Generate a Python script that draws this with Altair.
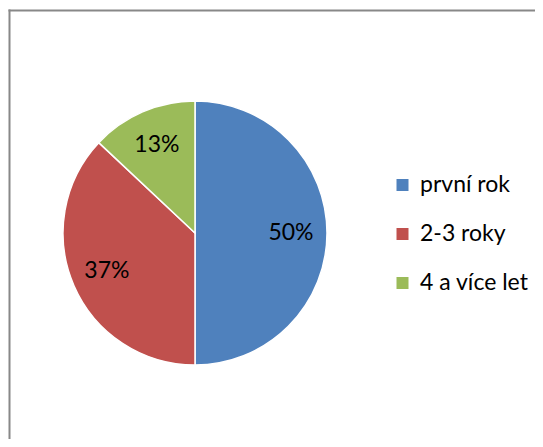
import altair as alt
import pandas as pd

categories = ["první rok", "2-3 roky", "4 a více let"]
values = [50, 37, 13]
labels = ["50%", "37%", "13%"]
colors = ["#4F81BD", "#C0504D", "#9BBB59"]

df = pd.DataFrame({"cat": categories, "val": values, "label": labels, "order": [0, 1, 2]})

W, H = 527, 431
CX, CY = 187, 225
FONT = "Lato"

base = alt.Chart(df).encode(
    theta=alt.Theta("val:Q", stack=True),
    order=alt.Order("order:Q"),
)

pie = base.mark_arc(outerRadius=132, stroke="white", strokeWidth=1.5).encode(
    x=alt.value(CX), y=alt.value(CY),
    color=alt.Color("cat:N", scale=alt.Scale(domain=categories, range=colors),
                    legend=alt.Legend(title=None, orient="none", legendX=383, legendY=165.5,
                                      symbolType="square", symbolSize=144, symbolStrokeWidth=0,
                                      labelFontSize=23, labelFont=FONT, labelColor="#000",
                                      rowPadding=25, symbolOffset=0, labelOffset=6)),
)

text = base.mark_text(radius=96, fontSize=23, font=FONT, color="#000").encode(
    x=alt.value(CX), y=alt.value(CY), text="label:N"
)

frame_df = pd.DataFrame({"a": [0]})
top_line = alt.Chart(frame_df).mark_rule(stroke="#888888", strokeWidth=2).encode(
    x=alt.value(0.5), x2=alt.value(W), y=alt.value(2.5))
left_line = alt.Chart(frame_df).mark_rule(stroke="#888888", strokeWidth=2).encode(
    x=alt.value(1.5), y=alt.value(1.5), y2=alt.value(H))

chart = alt.layer(top_line, left_line, pie, text).properties(
    width=W, height=H, padding=0, autosize=alt.AutoSizeParams(type="none")
).configure_view(stroke=None)

chart.save("out.html", embed_options={"renderer": "svg", "actions": False})
